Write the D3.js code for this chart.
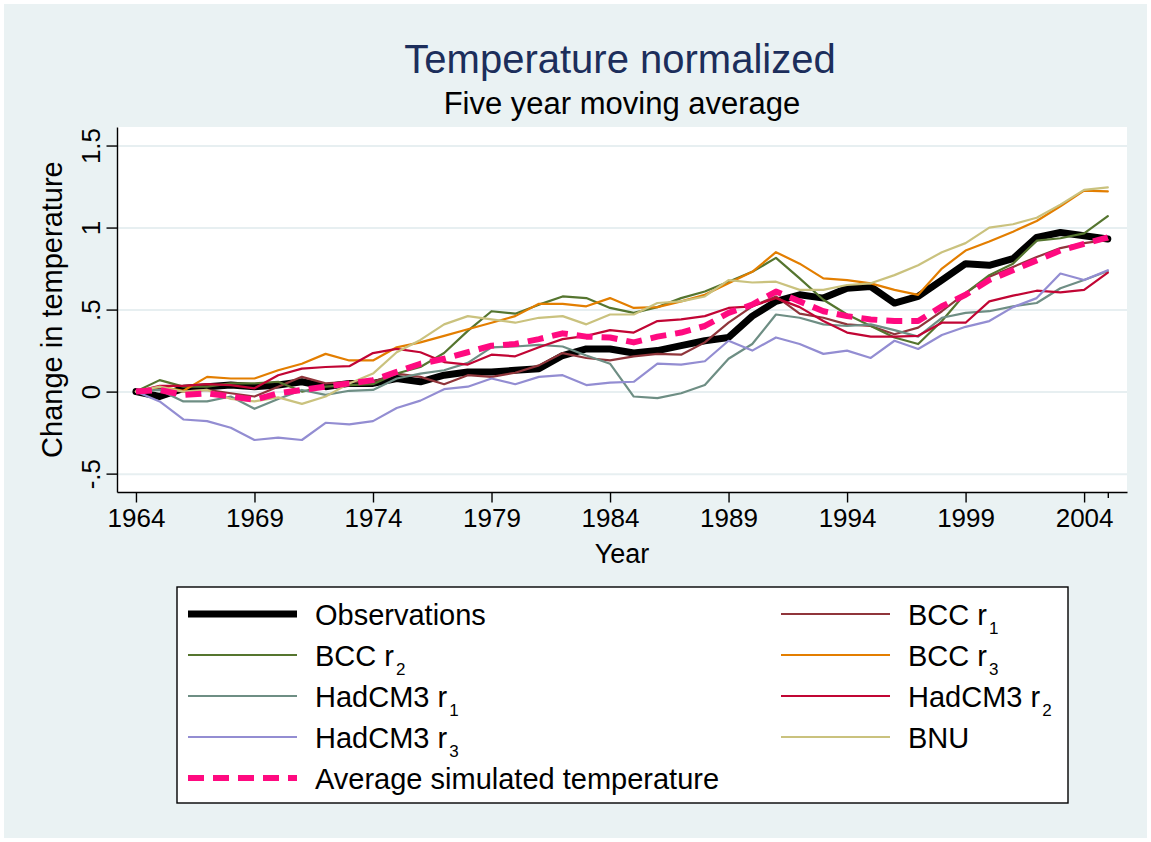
<!DOCTYPE html>
<html>
<head>
<meta charset="utf-8">
<script src="https://cdn.jsdelivr.net/npm/d3@7"></script>
<style>
  body { margin: 0; background: #ffffff; }
  text { font-family: "Liberation Sans", Arial, Helvetica, sans-serif; }
</style>
</head>
<body>
<div id="canvas"></div>
<script>
"use strict"

/* Years on the x axis, 1964 to 2005 */
let years = d3.range(1964, 2006);

/* Five year moving averages */
let observations = [0, -0.03, 0.02, 0.03, 0.04, 0.03, 0.04, 0.06, 0.03, 0.05,
    0.05, 0.08, 0.06, 0.1, 0.12, 0.12, 0.13, 0.14, 0.22, 0.26,
    0.26, 0.235, 0.25, 0.28, 0.31, 0.33, 0.46, 0.55, 0.59, 0.57,
    0.63, 0.64, 0.54, 0.58, 0.68, 0.78, 0.77, 0.81, 0.94, 0.97,
    0.95, 0.93];
let bccR1 = [0, 0.02, 0.0, 0.01, -0.01, -0.03, 0.03, 0.09, 0.05, 0.06,
    0.06, 0.11, 0.09, 0.045, 0.1, 0.09, 0.115, 0.16, 0.235, 0.205,
    0.19, 0.215, 0.23, 0.225, 0.3, 0.42, 0.52, 0.58, 0.475, 0.45,
    0.41, 0.4, 0.35, 0.39, 0.49, 0.6, 0.7, 0.76, 0.82, 0.875,
    0.905, 0.925];
let bccR2 = [0, 0.07, 0.03, 0.03, 0.05, 0.05, 0.06, 0.0, 0.03, 0.04,
    0.045, 0.11, 0.15, 0.235, 0.37, 0.49, 0.475, 0.53, 0.58, 0.57,
    0.51, 0.48, 0.515, 0.57, 0.61, 0.67, 0.73, 0.815, 0.69, 0.56,
    0.47, 0.4, 0.33, 0.29, 0.43, 0.6, 0.71, 0.78, 0.92, 0.935,
    0.965, 1.07];
let bccR3 = [0, 0.03, 0.005, 0.09, 0.08, 0.08, 0.13, 0.17, 0.23, 0.19,
    0.19, 0.27, 0.3, 0.34, 0.38, 0.42, 0.46, 0.535, 0.535, 0.52,
    0.57, 0.51, 0.515, 0.55, 0.59, 0.66, 0.73, 0.85, 0.78, 0.69,
    0.68, 0.66, 0.62, 0.59, 0.75, 0.86, 0.915, 0.975, 1.04, 1.13,
    1.225, 1.22];
let hadR1 = [0, 0.01, -0.06, -0.06, -0.03, -0.105, -0.045, 0.01, -0.02, 0.005,
    0.01, 0.08, 0.11, 0.13, 0.175, 0.27, 0.275, 0.285, 0.275, 0.22,
    0.17, -0.03, -0.04, -0.01, 0.04, 0.2, 0.29, 0.47, 0.45, 0.41,
    0.4, 0.41, 0.375, 0.335, 0.45, 0.48, 0.49, 0.52, 0.54, 0.63,
    0.68, 0.735];
let hadR2 = [0, 0.035, 0.035, 0.045, 0.04, 0.02, 0.1, 0.14, 0.15, 0.155,
    0.235, 0.26, 0.24, 0.18, 0.165, 0.225, 0.215, 0.27, 0.32, 0.34,
    0.375, 0.36, 0.43, 0.44, 0.46, 0.51, 0.52, 0.57, 0.515, 0.43,
    0.36, 0.335, 0.335, 0.34, 0.42, 0.42, 0.55, 0.585, 0.615, 0.605,
    0.62, 0.725];
let hadR3 = [0, -0.06, -0.17, -0.18, -0.22, -0.295, -0.28, -0.295, -0.19, -0.2,
    -0.18, -0.1, -0.055, 0.015, 0.03, 0.08, 0.045, 0.09, 0.1, 0.04,
    0.055, 0.06, 0.17, 0.165, 0.185, 0.31, 0.25, 0.33, 0.29, 0.23,
    0.25, 0.205, 0.31, 0.26, 0.345, 0.395, 0.43, 0.515, 0.57, 0.72,
    0.68, 0.74];
let bnu = [0, 0.03, 0.0, 0.01, -0.045, -0.06, -0.035, -0.075, -0.03, 0.05,
    0.11, 0.24, 0.315, 0.41, 0.46, 0.44, 0.42, 0.45, 0.46, 0.41,
    0.47, 0.47, 0.54, 0.55, 0.58, 0.68, 0.665, 0.67, 0.62, 0.62,
    0.65, 0.66, 0.71, 0.77, 0.85, 0.905, 1.0, 1.02, 1.06, 1.14,
    1.23, 1.245];
let avgSimulated = [0, 0.01, -0.02, -0.01, -0.03, -0.05, -0.01, 0.01, 0.03, 0.05,
    0.07, 0.12, 0.17, 0.2, 0.24, 0.28, 0.29, 0.32, 0.355, 0.335,
    0.33, 0.3, 0.335, 0.36, 0.4, 0.48, 0.53, 0.61, 0.55, 0.49,
    0.46, 0.44, 0.43, 0.43, 0.52, 0.59, 0.68, 0.74, 0.8, 0.86,
    0.9, 0.94];

/* Tick labels */
let xTickValues = [1964, 1969, 1974, 1979, 1984, 1989, 1994, 1999, 2004];
let yTickValues = [-0.5, 0, 0.5, 1, 1.5];
let yTickLabels = ["-.5", "0", ".5", "1", "1.5"];

/* Series names for the legend: name + subscript */
let seriesNames = ["Observations", "BCC r", "BCC r", "BCC r", "HadCM3 r", "HadCM3 r", "HadCM3 r", "BNU", "Average simulated temperature"];
let seriesSubs = ["", "1", "2", "3", "1", "2", "3", "", ""];

/* Table that ties each series to its look (Stata s2color) */
let series = [
    {name: seriesNames[0], sub: seriesSubs[0], values: observations, color: "#000000", width: 7, dash: null},
    {name: seriesNames[1], sub: seriesSubs[1], values: bccR1, color: "#90353b", width: 2.2, dash: null},
    {name: seriesNames[2], sub: seriesSubs[2], values: bccR2, color: "#55752f", width: 2.2, dash: null},
    {name: seriesNames[3], sub: seriesSubs[3], values: bccR3, color: "#e37e00", width: 2.2, dash: null},
    {name: seriesNames[4], sub: seriesSubs[4], values: hadR1, color: "#6e8e84", width: 2.2, dash: null},
    {name: seriesNames[5], sub: seriesSubs[5], values: hadR2, color: "#c10534", width: 2.2, dash: null},
    {name: seriesNames[6], sub: seriesSubs[6], values: hadR3, color: "#938dd2", width: 2.2, dash: null},
    {name: seriesNames[7], sub: seriesSubs[7], values: bnu, color: "#cac27e", width: 2.2, dash: null},
    {name: seriesNames[8], sub: seriesSubs[8], values: avgSimulated, color: "#ff0a80", width: 6, dash: "16,9"}
];

let drawing = d3.select("#canvas")
    .append("svg")
    .attr("width", 1151)
    .attr("height", 842);

/* Graph region background */
let graphRegion = drawing.append("rect")
    .attr("x", 4)
    .attr("y", 4)
    .attr("width", 1143)
    .attr("height", 834)
    .attr("fill", "#eaf2f3");

/* Plot region */
let plotLeft = 117;
let plotRight = 1127;
let plotTop = 127;
let plotBottom = 492;

let plotRegion = drawing.append("rect")
    .attr("x", plotLeft)
    .attr("y", plotTop)
    .attr("width", plotRight - plotLeft)
    .attr("height", plotBottom - plotTop)
    .attr("fill", "white");

let x = d3.scaleLinear()
    .domain([1963.2, 2005.81])
    .range([plotLeft, plotRight]);

let y = d3.scaleLinear()
    .domain([-0.612, 1.613])
    .range([plotBottom, plotTop]);

/* Grid lines */
let grid = drawing.append("g")
    .attr("transform", "translate(" + plotLeft + ",0)")
    .call(d3.axisLeft(y).tickValues(yTickValues).tickSize(-(plotRight - plotLeft)).tickFormat(""));
grid.select(".domain").remove();
grid.selectAll("line")
    .attr("stroke", "#e7eff1")
    .attr("stroke-width", 2);

/* Series lines */
let line = d3.line()
    .x((d, i) => x(years[i]))
    .y(d => y(d));

let seriesLines = drawing.append("g")
    .selectAll("path")
    .data(series)
    .join("path")
    .attr("d", d => line(d.values))
    .attr("fill", "none")
    .attr("stroke", d => d.color)
    .attr("stroke-width", d => d.width)
    .attr("stroke-dasharray", d => d.dash)
    .attr("stroke-linejoin", "round")
    .attr("stroke-linecap", d => d.dash ? "butt" : "round");

/* Y axis with rotated labels */
let yAxis = drawing.append("g")
    .attr("transform", "translate(" + plotLeft + ",0)")
    .call(d3.axisLeft(y).tickValues(yTickValues).tickSize(10.5).tickSizeOuter(0)
        .tickFormat((d, i) => yTickLabels[i]));
yAxis.selectAll("text")
    .attr("transform", "rotate(-90)")
    .attr("text-anchor", "middle")
    .attr("x", 0)
    .attr("y", -17)
    .attr("dy", 0)
    .attr("font-size", 26)
    .attr("fill", "black");

/* X axis */
let xAxis = drawing.append("g")
    .attr("transform", "translate(0," + plotBottom + ")")
    .call(d3.axisBottom(x).tickValues(xTickValues).tickSize(10.5).tickSizeOuter(0)
        .tickPadding(6).tickFormat(d3.format("d")));
xAxis.selectAll("text")
    .attr("font-size", 26)
    .attr("fill", "black");

/* short tick at the last year */
let xMinor = drawing.append("g")
    .attr("transform", "translate(0," + plotBottom + ")")
    .call(d3.axisBottom(x).tickValues([years[years.length - 1]]).tickSize(6).tickFormat(""));
xMinor.select(".domain").remove();

drawing.selectAll(".domain, .tick line")
    .filter(function() { return !grid.node().contains(this); })
    .attr("stroke", "black")
    .attr("stroke-width", 1.4);

/* Titles */
let title = drawing.append("text")
    .attr("x", 620)
    .attr("y", 73)
    .attr("text-anchor", "middle")
    .attr("font-size", 40)
    .attr("fill", "#1c2e5b")
    .text("Temperature normalized");

let subtitle = drawing.append("text")
    .attr("x", 622)
    .attr("y", 114)
    .attr("text-anchor", "middle")
    .attr("font-size", 31)
    .attr("fill", "black")
    .text("Five year moving average");

let xTitle = drawing.append("text")
    .attr("x", 622)
    .attr("y", 563)
    .attr("text-anchor", "middle")
    .attr("font-size", 27)
    .attr("fill", "black")
    .text("Year");

let yTitle = drawing.append("text")
    .attr("transform", "translate(62," + y(0.5) + ") rotate(-90)")
    .attr("text-anchor", "middle")
    .attr("font-size", 29)
    .attr("fill", "black")
    .text("Change in temperature");

/* Legend box */
let legendBox = drawing.append("rect")
    .attr("x", 177)
    .attr("y", 587)
    .attr("width", 891)
    .attr("height", 216)
    .attr("fill", "white")
    .attr("stroke", "black")
    .attr("stroke-width", 1.4);

let legendColX = [188, 781];
let legendRowY = [614, 655, 696, 737, 778];

let legendItems = drawing.append("g")
    .selectAll("g")
    .data(series)
    .join("g")
    .attr("transform", (d, i) => "translate(" + legendColX[i % 2] + "," + legendRowY[Math.floor(i / 2)] + ")");

legendItems.append("line")
    .attr("x1", 0)
    .attr("x2", 109)
    .attr("y1", 0)
    .attr("y2", 0)
    .attr("stroke", d => d.color)
    .attr("stroke-width", d => d.width)
    .attr("stroke-dasharray", d => d.dash);

let legendText = legendItems.append("text")
    .attr("x", 127)
    .attr("y", 10.5)
    .attr("font-size", 29)
    .attr("fill", "black")
    .text(d => d.name);

legendText.filter(d => d.sub !== "")
    .append("tspan")
    .attr("dx", 2)
    .attr("dy", 9)
    .attr("font-size", 17)
    .text(d => d.sub);
</script>
</body>
</html>
